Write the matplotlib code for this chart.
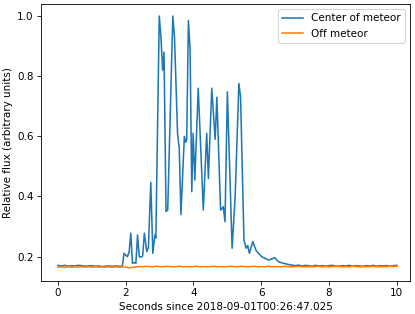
import numpy as np
import matplotlib
matplotlib.use('Agg')
import matplotlib.pyplot as plt

# centre of meteor: (time, flux) vertices
center_t = [0.0, 0.1, 0.2, 0.3, 0.4, 0.5, 0.6, 0.7, 0.8, 0.9,
            1.0, 1.1, 1.2, 1.3, 1.4, 1.5, 1.6, 1.7, 1.8, 1.9,
            1.95, 2.0, 2.05, 2.10, 2.15, 2.20, 2.25, 2.30, 2.35, 2.40,
            2.45, 2.50, 2.55, 2.62, 2.67, 2.74, 2.80, 2.86, 2.89, 2.99,
            3.04, 3.09, 3.13, 3.19, 3.24, 3.39, 3.44, 3.53, 3.58, 3.63,
            3.73, 3.77, 3.80, 3.85, 3.90, 3.95, 3.99, 4.04, 4.14, 4.29,
            4.39, 4.44, 4.54, 4.64, 4.69, 4.80, 4.85, 4.88, 4.93, 5.00,
            5.14, 5.23, 5.34, 5.39, 5.49, 5.55, 5.60, 5.65, 5.75, 5.85,
            6.01, 6.21, 6.31, 6.39, 6.51, 6.65, 6.8,
            6.9, 7.0, 7.1, 7.2, 7.3, 7.4, 7.5, 7.6, 7.7, 7.8,
            7.9, 8.0, 8.1, 8.2, 8.3, 8.4, 8.5, 8.6, 8.7, 8.8,
            8.9, 9.0, 9.1, 9.2, 9.3, 9.4, 9.5, 9.6, 9.7, 9.8,
            9.9, 10.0]
center_flux = [0.171, 0.169, 0.171, 0.168, 0.170, 0.169, 0.171, 0.170, 0.168, 0.169,
               0.170, 0.168, 0.169, 0.167, 0.168, 0.169, 0.168, 0.169, 0.168, 0.168,
               0.211, 0.205, 0.200, 0.215, 0.278, 0.178, 0.180, 0.178, 0.272, 0.200,
               0.198, 0.202, 0.278, 0.217, 0.230, 0.447, 0.211, 0.272, 0.262, 1.000,
               0.930, 0.820, 0.880, 0.350, 0.355, 1.000, 0.930, 0.610, 0.560, 0.340,
               0.600, 0.580, 0.590, 0.985, 0.890, 0.416, 0.610, 0.455, 0.760, 0.355,
               0.610, 0.460, 0.760, 0.590, 0.730, 0.355, 0.360, 0.366, 0.316, 0.748,
               0.228, 0.400, 0.776, 0.730, 0.255, 0.228, 0.237, 0.211, 0.250, 0.220,
               0.200, 0.189, 0.192, 0.197, 0.183, 0.178, 0.174,
               0.172, 0.170, 0.172, 0.169, 0.171, 0.170, 0.168, 0.171, 0.169, 0.170,
               0.168, 0.170, 0.171, 0.169, 0.168, 0.170, 0.169, 0.171, 0.168, 0.170,
               0.169, 0.168, 0.170, 0.169, 0.171, 0.168, 0.170, 0.169, 0.170, 0.168,
               0.170, 0.171]

# off meteor, every 0.1 s
off_t = [i / 10 for i in range(101)]
off_flux = [0.165, 0.166, 0.164, 0.166, 0.165, 0.166, 0.165, 0.166, 0.165, 0.166,
            0.165, 0.166, 0.165, 0.166, 0.165, 0.166, 0.165, 0.166, 0.165, 0.166,
            0.165, 0.163, 0.164, 0.166, 0.167, 0.166, 0.168, 0.167, 0.166, 0.168,
            0.167, 0.166, 0.168, 0.167, 0.166, 0.167, 0.168, 0.166, 0.167, 0.166,
            0.167, 0.168, 0.166, 0.167, 0.166, 0.167, 0.168, 0.166, 0.167, 0.166,
            0.167, 0.168, 0.167, 0.166, 0.168, 0.167, 0.166, 0.167, 0.168, 0.166,
            0.167, 0.166, 0.168, 0.167, 0.166, 0.167, 0.166, 0.168, 0.167, 0.166,
            0.167, 0.168, 0.167, 0.166, 0.167, 0.166, 0.167, 0.168, 0.166, 0.167,
            0.166, 0.167, 0.168, 0.167, 0.166, 0.167, 0.166, 0.168, 0.167, 0.166,
            0.167, 0.166, 0.167, 0.168, 0.166, 0.167, 0.166, 0.167, 0.168, 0.167,
            0.168]

fig = plt.figure(figsize=(415 / 75, 314 / 75), dpi=75)
ax = fig.add_axes([41 / 415, 33 / 314, 369 / 415, 277 / 314])
ax.plot(center_t, center_flux, label='Center of meteor')
ax.plot(off_t, off_flux, label='Off meteor')
ax.set_xlim(-0.5, 10.39)
ax.set_ylim(0.119, 1.04)
ax.set_xlabel('Seconds since 2018-09-01T00:26:47.025')
ax.set_ylabel('Relative flux (arbitrary units)')
ax.legend(loc='upper right')
fig.savefig('out.png', dpi=75)
